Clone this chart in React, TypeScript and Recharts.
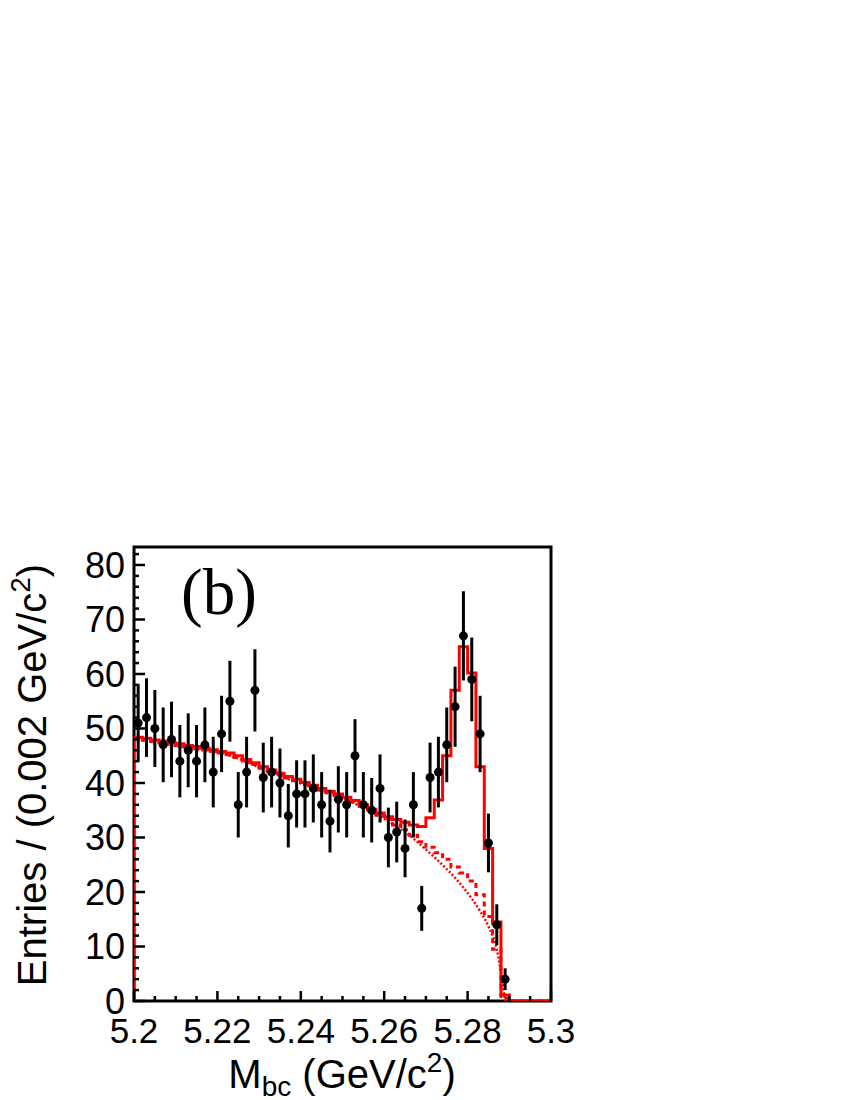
import React from "react";
import {
  ComposedChart,
  Line,
  Scatter,
  ErrorBar,
  XAxis,
  YAxis,
  ReferenceArea,
  Customized,
} from "recharts";

const BIN_START = 5.2;
const BIN_WIDTH = 0.002;
const X_MAX = 5.3;
const Y_MAX = 83.3;

// entries per 0.002 GeV/c^2 bin, starting at 5.200
const counts = [
  51, 52, 50, 47, 48, 44, 46, 44, 47, 42, 49, 55, 36, 42, 57, 41, 42, 40, 34,
  38, 38, 39, 36, 33, 37, 36, 45, 36, 35, 39, 30, 31, 28, 36, 17, 41, 42, 47,
  54, 67, 59, 49, 29, 14, 4,
];

// total fit (solid histogram), one value per bin
const totalFit = [
  48.4, 48.2, 47.9, 47.7, 47.4, 47.2, 46.9, 46.7, 46.4, 46.1, 45.8, 45.5, 45.0,
  44.3, 43.7, 43.0, 42.4, 41.8, 41.2, 40.7, 40.1, 39.6, 39.0, 38.5, 38.0, 37.4,
  36.8, 36.0, 35.2, 34.5, 33.8, 33.3, 32.8, 32.3, 32.0, 33.6, 36.9, 45.0, 57.0,
  65.0, 60.2, 43.0, 28.0, 14.5, 1.1, 0, 0, 0, 0, 0,
];

// background incl. peaking component (dashed histogram)
const bkgTotal = [
  48.1, 47.9, 47.6, 47.4, 47.1, 46.9, 46.6, 46.4, 46.1, 45.8, 45.5, 45.2, 44.7,
  44.0, 43.4, 42.7, 42.1, 41.5, 40.9, 40.4, 39.8, 39.3, 38.7, 38.2, 37.7, 37.1,
  36.5, 35.7, 34.9, 34.1, 33.3, 32.3, 31.4, 30.4, 29.2, 28.2, 27.2, 26.0, 24.6,
  23.5, 22.0, 19.5, 15.5, 9.5, 0.5, 0, 0, 0, 0, 0,
];

// continuum (dotted curve) at bin centres
const continuum = [
  47.9, 47.7, 47.4, 47.2, 46.9, 46.7, 46.4, 46.2, 45.9, 45.6, 45.3, 45.0, 44.5,
  43.8, 43.2, 42.5, 41.9, 41.3, 40.7, 40.2, 39.6, 39.1, 38.5, 38.0, 37.5, 36.9,
  36.2, 35.4, 34.6, 33.8, 33.0, 32.0, 31.0, 29.8, 28.5, 27.1, 25.7, 24.2, 22.6,
  20.8, 18.8, 16.5, 13.7, 9.5,
];
const continuumStart = 48.0;
const continuumEnd = 5.289;

const xMajorTicks = [5.2, 5.22, 5.24, 5.26, 5.28, 5.3];
const yMajorTicks = [0, 10, 20, 30, 40, 50, 60, 70, 80];
const X_MINOR = 0.005;
const Y_MINOR = 2;

const FONT = "'Liberation Sans', Arial, Helvetica, sans-serif";

const points = counts.map((n, i) => ({
  x: BIN_START + BIN_WIDTH * (i + 0.5),
  y: n,
  err: Math.sqrt(n),
}));

const stepData = (vals: number[], fromZero: boolean) => {
  const d = vals.map((v, i) => ({ x: BIN_START + BIN_WIDTH * i, y: v }));
  d.push({ x: X_MAX, y: vals[vals.length - 1] });
  if (fromZero) d.unshift({ x: BIN_START, y: 0 });
  return d;
};

const fitSteps = stepData(totalFit, true);
const bkgSteps = stepData(bkgTotal, false);
const contCurve = [
  { x: BIN_START, y: continuumStart },
  ...continuum.map((v, i) => ({ x: BIN_START + BIN_WIDTH * (i + 0.5), y: v })),
  { x: continuumEnd, y: 0 },
];

const xTicks: number[] = [];
for (let i = 0; i <= Math.round((X_MAX - BIN_START) / X_MINOR); i++)
  xTicks.push(+(BIN_START + i * X_MINOR).toFixed(3));
const yTicks: number[] = [];
for (let v = 0; v < Y_MAX; v += Y_MINOR) yTicks.push(v);

const XTick = (props: any) => {
  const { x, y, payload } = props;
  const major = xMajorTicks.find((t) => Math.abs(t - payload.value) < 1e-6);
  return (
    <g>
      <line x1={x} x2={x} y1={y} y2={y - (major !== undefined ? 10 : 5)} stroke="#000" strokeWidth={2.5} />
      {major !== undefined && (
        <text x={x} y={y + 42} textAnchor="middle" fontSize={35} fontFamily={FONT} fill="#000">
          {String(major)}
        </text>
      )}
    </g>
  );
};

const YTick = (props: any) => {
  const { x, y, payload } = props;
  const major = yMajorTicks.includes(payload.value);
  return (
    <g>
      <line x1={x} x2={x + (major ? 11 : 5)} y1={y} y2={y} stroke="#000" strokeWidth={2.5} />
      {major && (
        <text x={x - 9} y={y} dy="0.36em" textAnchor="end" fontSize={36} fontFamily={FONT} fill="#000">
          {payload.value}
        </text>
      )}
    </g>
  );
};

const Annotations = () => (
  <g>
    <text x={181} y={614} fontSize={65} fontFamily="'Liberation Serif', 'Times New Roman', serif" fill="#000">
      (b)
    </text>
    <text x={342} y={1088} textAnchor="middle" fontSize={40} fontFamily={FONT} fill="#000">
      M
      <tspan fontSize={28} dy={8}>bc</tspan>
      <tspan dy={-8}> (GeV/c</tspan>
      <tspan fontSize={28} dy={-16}>2</tspan>
      <tspan dy={16}>)</tspan>
    </text>
    <text
      x={46}
      y={775}
      textAnchor="middle"
      fontSize={40}
      fontFamily={FONT}
      fill="#000"
      transform="rotate(-90, 46, 775)"
    >
      Entries / (0.002 GeV/c
      <tspan fontSize={28} dy={-16}>2</tspan>
      <tspan dy={16}>)</tspan>
    </text>
  </g>
);

export default function App() {
  return (
    <div style={{ position: "absolute", left: 0, top: 0, width: 850, height: 1100, background: "#fff" }}>
      <ComposedChart
        width={850}
        height={1100}
        margin={{ top: 547, right: 299, bottom: 0, left: 0 }}
      >
        <XAxis
          type="number"
          dataKey="x"
          domain={[BIN_START, X_MAX]}
          allowDataOverflow
          ticks={xTicks}
          interval={0}
          tick={<XTick />}
          tickSize={0}
          tickMargin={0}
          tickLine={false}
          axisLine={false}
          height={99}
        />
        <YAxis
          type="number"
          domain={[0, Y_MAX]}
          allowDataOverflow
          ticks={yTicks}
          interval={0}
          tick={<YTick />}
          tickSize={0}
          tickMargin={0}
          tickLine={false}
          axisLine={false}
          width={134}
        />
        <ReferenceArea
          x1={BIN_START}
          x2={X_MAX}
          y1={0}
          y2={Y_MAX}
          fill="none"
          stroke="#000"
          strokeWidth={3}
        />
        <Line
          data={contCurve}
          dataKey="y"
          type="monotone"
          stroke="#ff0000"
          strokeWidth={2.5}
          strokeDasharray="2 2"
          dot={false}
          isAnimationActive={false}
        />
        <Line
          data={bkgSteps}
          dataKey="y"
          type="stepAfter"
          stroke="#ff0000"
          strokeWidth={3}
          strokeDasharray="5 4"
          dot={false}
          isAnimationActive={false}
        />
        <Line
          data={fitSteps}
          dataKey="y"
          type="stepAfter"
          stroke="#ff0000"
          strokeWidth={3}
          dot={false}
          isAnimationActive={false}
        />
        <Scatter
          data={points}
          dataKey="y"
          fill="#000"
          isAnimationActive={false}
          shape={(p: any) => <circle cx={p.cx} cy={p.cy} r={4.5} fill="#000" />}
        >
          <ErrorBar dataKey="err" direction="y" width={0} stroke="#000" strokeWidth={3} />
        </Scatter>
        <Customized component={Annotations} />
      </ComposedChart>
    </div>
  );
}
